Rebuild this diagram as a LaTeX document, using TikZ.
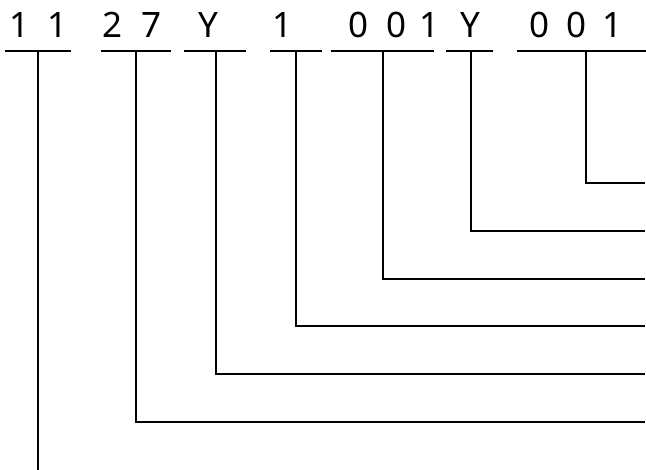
\documentclass[tikz,border=0pt]{standalone}
\usepackage{fontspec}
\setmainfont{Noto Sans}
\begin{document}
\begin{tikzpicture}[x=1pt,y=-1pt,
  ln/.style={line width=2pt},
  ch/.style={anchor=base,inner sep=0pt,font=\fontsize{35}{35}\selectfont}]
\useasboundingbox (0,0) rectangle (646,470);
% characters
\node[ch] (c1) at (20,38) {1};
\node[ch] (c2) at (58,38) {1};
\node[ch] (c3) at (113,38) {2};
\node[ch] (c4) at (152,38) {7};
\node[ch] (c5) at (208,38) {Y};
\node[ch] (c6) at (283,38) {1};
\node[ch] (c7) at (359,38) {0};
\node[ch] (c8) at (397,38) {0};
\node[ch] (c9) at (430,38) {1};
\node[ch] (c10) at (470,38) {Y};
\node[ch] (c11) at (540,38) {0};
\node[ch] (c12) at (577,38) {0};
\node[ch] (c13) at (613,38) {1};
% bars
\coordinate (b1l) at (5,51);   \coordinate (b1r) at (71,51);
\coordinate (b2l) at (101,51); \coordinate (b2r) at (171,51);
\coordinate (b3l) at (184,51); \coordinate (b3r) at (246,51);
\coordinate (b4l) at (270,51); \coordinate (b4r) at (322,51);
\coordinate (b5l) at (331,51); \coordinate (b5r) at (434,51);
\coordinate (b6l) at (446,51); \coordinate (b6r) at (493,51);
\coordinate (b7l) at (517,51); \coordinate (b7r) at (646,51);
\foreach \i in {1,...,7} {\draw[ln] (b\i l) -- (b\i r);}
% stems
\coordinate (s1) at (37.5,51);  \coordinate (e1) at (37.5,470);
\coordinate (s2) at (136,51);   \coordinate (e2) at (645,422);
\coordinate (s3) at (216,51);   \coordinate (e3) at (645,374);
\coordinate (s4) at (296,51);   \coordinate (e4) at (645,326);
\coordinate (s5) at (383,51);   \coordinate (e5) at (645,279);
\coordinate (s6) at (471,51);   \coordinate (e6) at (645,231);
\coordinate (s7) at (586,51);   \coordinate (e7) at (645,183);
\draw[ln] (s1) -- (e1);
\foreach \i in {2,...,7} {\draw[ln] (s\i) |- (e\i);}
\end{tikzpicture}
\end{document}
